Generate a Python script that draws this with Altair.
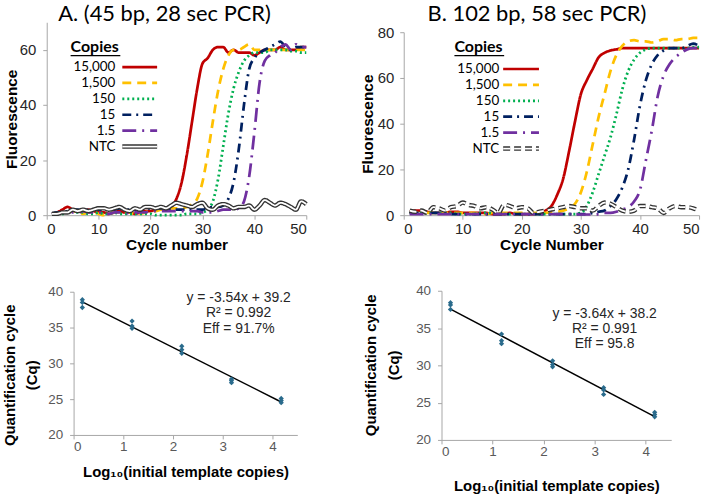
import altair as alt
import pandas as pd

# ---------------- data ----------------
cycles = list(range(1, 51))
series_names = ["15,000", "1,500", "150", "15", "1.5", "NTC"]
colored_names = series_names[:5]
legend_title = ["Copies"]
panel_titles = ["A. (45 bp, 28 sec PCR)", "B. 102 bp, 58 sec PCR)"]
cq_title = ["Quantification cycle", "(Cq)"]

a_15000 = [0.5, 1, 2, 3, 2, 1.5, 1, 2, 1.5, 1, 1, 0.5, 1, 1.5, 1, 1, 0.5, 1, 1.5, 1.5,
           2, 2, 2, 3, 6, 12, 22, 34, 46, 55, 57, 60, 61, 61, 59, 60, 59, 59, 59, 58,
           59, 60, 60, 60, 61, 60, 60, 60, 61, 61]
a_1500 = [0.5, 0.5, 1, 1, 1.5, 1, 0.5, 1, 1, 0.5, 0, 0.5, 1, 1, 1.5, 1, 0.5, 0.5, 1, 1.5,
          1.5, 2, 2, 2.5, 2.5, 2.5, 3, 4, 6, 12, 22, 34, 45, 53, 58, 60, 60, 61, 62, 60,
          60, 60, 60, 60, 60, 60, 60, 60, 60, 60]
a_150 = [0.5, 0.5, 0.5, 1, 1.5, 1, 1, 0.5, 0.5, 1, 0.5, 0.5, 1, 0.5, 0.5, 0.5, 0.5, 0.5, 0.5, 0.5,
         0, 0, 0, 0, 0, 0, 0.5, 0.5, 0.5, 1, 2, 5, 13, 25, 37, 46, 52, 56, 58, 59,
         59, 59, 60, 60, 60, 60, 59.5, 59.5, 59, 59]
a_15 = [0.5, 1, 1, 1.5, 2, 2, 1.5, 2, 2, 2, 2, 2, 2, 2.5, 2, 2, 2, 2, 2.5, 2.5,
        2.5, 2.5, 2.5, 2, 2, 2, 2, 2, 2, 2, 2.5, 3, 3, 3.5, 6, 12, 24, 40, 53, 57,
        59, 60, 61, 62, 63, 61, 60, 61, 61, 61]
a_1p5 = [0.5, 0.5, 1, 1, 1, 1, 1.5, 1, 1, 1, 0.5, 0.5, 1, 1, 0.5, 1, 1, 1, 1, 1.5,
         1.5, 1.5, 1.5, 1.5, 1.5, 1.5, 1.5, 1.5, 1.5, 1, 1, 1, 1.5, 2, 2, 2, 2.5, 5, 14, 30,
         48, 56, 58, 59, 61, 62, 60, 62, 61, 61]
a_ntc = [0.5, 0.5, 1, 1, 2, 1.5, 2, 1.5, 2, 2.5, 2.5, 2, 2.5, 3, 2, 1.5, 2.5, 2, 3, 3,
         2.5, 3, 2.5, 3.5, 4.5, 4, 3.5, 3, 4, 4.5, 2.5, 2, 3.5, 4, 3.5, 2.5, 3, 3, 3.5, 2,
         3.5, 5.5, 4.5, 3.5, 4.5, 4, 3, 2, 5, 4]

b_15000 = [1.5, 2, 2, 1.5, 1, 1, 1, 1.5, 1.5, 1, 1, 1, 1, 1, 0.5, 0.5, 0.5, 1, 0.5, 0.5,
           0.5, 0.5, 1, 2, 4, 9, 16, 28, 41, 53, 59, 64, 69, 71, 72, 72.5, 73, 73, 73, 73,
           73, 73, 73, 73, 73, 73, 73, 73, 73, 73]
b_1500 = [1, 1, 1, 1, 1, 0.5, 1, 1, 1, 1, 1, 1, 0.5, 0.5, 1, 1, 1, 1, 1, 1,
          1, 1, 1, 1, 1.5, 1.5, 2, 3, 5, 10, 19, 31, 43, 53, 63, 70, 74, 76, 76.5, 76,
          76, 75.5, 76, 77, 77, 76.5, 77, 77, 77.5, 77.5]
b_150 = [1, 1, 1, 1, 1, 1, 1, 1, 0.5, 0.5, 0.5, 0.5, 1, 1, 1, 0.5, 0.5, 0.5, 0.5, 0.5,
         0.5, 0.5, 0.5, 0.5, 0.5, 0.5, 0.5, 0.5, 0.5, 1, 4, 10, 18, 26, 34, 44, 55, 63, 68, 71,
         72.5, 73, 73, 73, 73, 73, 73, 73, 73.5, 73.5]
b_15 = [1, 1, 1, 1, 1, 1, 1, 0.5, 0.5, 0.5, 0.5, 0.5, 0.5, 0.5, 0.5, 0.5, 0.5, 0.5, 0.5, 0.5,
        0.5, 0.5, 0.5, 0.5, 0.5, 0.5, 0.5, 0.5, 0.5, 0.5, 0.5, 1, 1.5, 2, 4, 7, 12, 20, 33, 48,
        59, 66, 70, 72, 73, 73, 73, 74, 75, 74]
b_1p5 = [0.5, 0.5, 0.5, 0.5, 0.5, 0.5, 0.5, 0.5, 0.5, 0.5, 0.5, 0.5, 0.5, 0.5, 0.5, 0.5, 0.5, 0.5, 0.5, 0.5,
         0.5, 0.5, 0.5, 0.5, 0.5, 0.5, 0.5, 0.5, 0.5, 0.3, 0.3, 0.3, 0.5, 1, 1, 1.5, 2.5, 3.5, 6, 11,
         24, 37, 52, 61, 66, 69, 71, 72.5, 73, 73]
b_ntc = [2, 1.5, 2, 1, 3.5, 3, 2, 3.5, 4, 5.5, 4.5, 4, 3, 3.5, 2.5, 1, 4.5, 4, 3, 3.5,
         3, 1, 1.5, 2, 2.5, 3, 3.5, 4, 3.5, 3, 3, 2, 4, 5.5, 5, 3.5, 2, 1.5, 2, 4,
         4, 3.5, 3, 1, 3, 4, 3.5, 3.5, 3, 2]

colors_a = ["#c00000", "#ffc000", "#00b050", "#002060", "#7030a0"]
colors_b = ["#c00000", "#ffc000", "#00b050", "#0070c0", "#7030a0"]
dash_patterns = [[1, 0], [9, 6], [2, 3], [9, 5, 2, 5], [14, 6, 2, 6]]

log_copies = [0.176, 1.176, 2.176, 3.176, 4.176]
cq_a = [[38.9, 38.5, 37.8], [35.9, 35.2, 34.9], [32.4, 31.9, 31.4], [27.8, 27.6, 27.3], [25.1, 24.8, 24.5]]
cq_b = [[38.4, 38.1, 37.5], [34.2, 33.3, 32.9], [30.6, 30.1, 29.8], [27.0, 26.7, 26.1], [23.7, 23.4, 23.1]]
fit_text_a = ["y = -3.54x + 39.2", "R\u00b2 = 0.992", "Eff = 91.7%"]
fit_text_b = ["y = -3.64x + 38.2", "R\u00b2 = 0.991", "Eff = 95.8"]

# ---------------- styles ----------------
ARIAL = "Liberation Sans, Arial, sans-serif"
CALIBRI = "Lato, Carlito, Calibri, sans-serif"
AXIS_GRAY = "#a6a6a6"
PT_COLOR = "#2a6b8c"
ONE = pd.DataFrame({"k": [0]})


def anchor(x1, y1, x2, y2):
    # invisible layout guide that fixes the bounds of a panel
    return alt.Chart(ONE).mark_rule(opacity=0, strokeWidth=0.1, color="white").encode(
        x=alt.value(x1), y=alt.value(y1), x2=alt.value(x2), y2=alt.value(y2))


def label_text(text, x, y, size, angle=0, weight="bold", font=ARIAL, baseline="middle"):
    return alt.Chart(pd.DataFrame({"t": [text]})).mark_text(
        align="center", baseline=baseline, angle=angle, font=font, fontSize=size,
        fontWeight=weight, color="black").encode(
        x=alt.value(x), y=alt.value(y), text="t:N")


def amp_panel(curves, ntc, colors, ntc_dash, title, title_x, x_title, y_max, y_ticks,
              width, height, y_range, y_lab_pad, y_title_pad, leg_rows, leg_label_x,
              leg_line_x, header_x, header_y, guide):
    rows = []
    for name, vals in zip(colored_names, curves):
        for c, v in zip(cycles, vals):
            rows.append({"cycle": c, "value": v, "series": name})
    df = pd.DataFrame(rows)
    df_ntc = pd.DataFrame({"cycle": cycles, "value": ntc})

    x_enc = alt.X("cycle:Q", scale=alt.Scale(domain=[0, 50], range=[0, width], nice=False, padding=0),
                  axis=alt.Axis(values=[0, 10, 20, 30, 40, 50], title=x_title, grid=False,
                                labelFont=ARIAL, labelFontSize=15, labelColor="#262626",
                                titleFont=ARIAL, titleFontSize=15.5, titleFontWeight="bold",
                                titleColor="black", titlePadding=2, labelPadding=2,
                                tickSize=4, domainColor=AXIS_GRAY, tickColor=AXIS_GRAY))
    y_enc = alt.Y("value:Q", scale=alt.Scale(domain=[0, y_max], range=y_range, nice=False),
                  axis=alt.Axis(values=y_ticks, title="Fluorescence", grid=False,
                                labelFont=ARIAL, labelFontSize=15, labelColor="#262626",
                                titleFont=ARIAL, titleFontSize=15.5, titleFontWeight="bold",
                                titleColor="black", titlePadding=y_title_pad,
                                labelPadding=y_lab_pad, tickSize=4,
                                domainColor=AXIS_GRAY, tickColor=AXIS_GRAY))
    color_scale = alt.Scale(domain=colored_names, range=colors)
    dash_scale = alt.Scale(domain=colored_names, range=dash_patterns)

    col_lines = alt.Chart(df).mark_line(strokeWidth=2.75, interpolate="monotone").encode(
        x=x_enc, y=y_enc,
        color=alt.Color("series:N", scale=color_scale, legend=None),
        strokeDash=alt.StrokeDash("series:N", scale=dash_scale, legend=None),
    )
    ntc_out = alt.Chart(df_ntc).mark_line(strokeWidth=4.5, color="#333333", strokeDash=ntc_dash,
                                          interpolate="monotone").encode(x=x_enc, y=y_enc)
    ntc_in = alt.Chart(df_ntc).mark_line(strokeWidth=1.8, color="white", strokeDash=ntc_dash,
                                         interpolate="monotone").encode(x=x_enc, y=y_enc)
    lines = alt.layer(col_lines, ntc_out, ntc_in)

    leg_df = pd.DataFrame({"series": series_names})
    leg_y = alt.Y("series:N", scale=alt.Scale(type="point", domain=series_names,
                                               range=leg_rows, padding=0), axis=None)
    samples = alt.Chart(leg_df).transform_filter(alt.datum.series != "NTC").mark_rule(
        strokeWidth=2.75).encode(
        x=alt.value(leg_line_x[0]), x2=alt.value(leg_line_x[1]), y=leg_y,
        color=alt.Color("series:N", scale=color_scale, legend=None),
        strokeDash=alt.StrokeDash("series:N", scale=dash_scale, legend=None),
    )
    leg_ntc_out = alt.Chart(leg_df).transform_filter(alt.datum.series == "NTC").mark_rule(
        strokeWidth=4.5, color="#333333", strokeDash=ntc_dash).encode(
        x=alt.value(leg_line_x[0]), x2=alt.value(leg_line_x[1]), y=leg_y)
    leg_ntc_in = alt.Chart(leg_df).transform_filter(alt.datum.series == "NTC").mark_rule(
        strokeWidth=1.8, color="white", strokeDash=ntc_dash).encode(
        x=alt.value(leg_line_x[0]), x2=alt.value(leg_line_x[1]), y=leg_y)
    labels = alt.Chart(leg_df).mark_text(align="right", baseline="middle", font=CALIBRI,
                                         fontSize=13.5, color="black").encode(
        x=alt.value(leg_label_x), y=leg_y, text="series:N")
    head_df = pd.DataFrame({"h": legend_title})
    header = alt.Chart(head_df).mark_text(align="left", baseline="alphabetic", font=CALIBRI,
                                          fontSize=16, fontWeight="bold", color="black").encode(
        x=alt.value(header_x), y=alt.value(header_y), text="h:N")
    underline = alt.Chart(head_df).mark_rule(color="black", strokeWidth=1.2).encode(
        x=alt.value(header_x), x2=alt.value(header_x + 50), y=alt.value(header_y + 3.5))
    title_mark = label_text(title, title_x, -1, 22, weight="normal", font=CALIBRI,
                            baseline="alphabetic")
    legend = alt.layer(samples, leg_ntc_out, leg_ntc_in, labels, header, underline,
                       title_mark, anchor(*guide))

    return alt.layer(lines, legend).resolve_scale(y="independent").properties(
        width=width, height=height)


def cal_panel(cq, fit_text, width, height, x_range, y_range, x_axis_off, y_axis_off,
              text_x, text_y, x_title_pad, ytitle_x, ytitle_y, guide):
    df = pd.DataFrame([{"x": lx, "cq": v} for lx, reps in zip(log_copies, cq) for v in reps])
    x_enc = alt.X("x:Q", scale=alt.Scale(domain=[0, 4.5], range=x_range, nice=False, padding=0),
                  axis=alt.Axis(values=[0, 1, 2, 3, 4], title="Log\u2081\u2080(initial template copies)",
                                grid=False, labelFont=ARIAL, labelFontSize=13.5,
                                labelColor="#595959", titleFont=ARIAL, titleFontSize=15,
                                titleFontWeight="bold", titleColor="black",
                                titlePadding=x_title_pad, labelPadding=1, tickSize=4,
                                offset=x_axis_off,
                                domainColor=AXIS_GRAY, tickColor=AXIS_GRAY))
    y_enc = alt.Y("cq:Q", scale=alt.Scale(domain=[20, 40], range=y_range, nice=False, zero=False),
                  axis=alt.Axis(values=[20, 25, 30, 35, 40], title="",
                                grid=False, labelFont=ARIAL, labelFontSize=13.5,
                                labelColor="#595959", labelPadding=7, tickSize=4,
                                offset=y_axis_off,
                                domainColor=AXIS_GRAY, tickColor=AXIS_GRAY))
    line = alt.Chart(df).transform_regression("x", "cq").mark_line(
        color="black", strokeWidth=1.5).encode(x=x_enc, y=y_enc)
    pts = alt.Chart(df).mark_point(shape="diamond", filled=True, size=28, color=PT_COLOR,
                                   opacity=1).encode(x=x_enc, y=y_enc)
    txt = alt.Chart(ONE).mark_text(
        text=fit_text, align="center", baseline="top", font=ARIAL, fontSize=14,
        lineHeight=15.5, color="#262626").encode(x=alt.value(text_x), y=alt.value(text_y))
    yt1 = label_text(cq_title[0], ytitle_x[0], ytitle_y, 15, angle=270)
    yt2 = label_text(cq_title[1], ytitle_x[1], ytitle_y, 15, angle=270)
    return alt.layer(line, pts, txt, yt1, yt2, anchor(*guide)).properties(width=width, height=height)


panel_a = amp_panel([a_15000, a_1500, a_150, a_15, a_1p5], a_ntc, colors_a, [1, 0],
                    panel_titles[0], 118.5, "Cycle number", 70, [0, 20, 40, 60],
                    261, 194, [194, 0], 7, 0, [45, 125], 69, [76, 111], 24, 30,
                    (-46, -20, 270, 240))
panel_b = amp_panel([b_15000, b_1500, b_150, b_15, b_1p5], b_ntc, colors_b, [7, 4],
                    panel_titles[1], 134, "Cycle Number", 80, [0, 20, 40, 60, 80],
                    297, 194, [194, 10], 6, 2, [47, 127], 96, [100, 136], 51, 30,
                    (-45, -20, -45, 240))
panel_c = cal_panel(cq_a, fit_text_a, 261, 150, [27, 252], [145, 1], -5, -27, 193, 0, 11,
                    (-37, -14.5), 85, (-46, -10, 270, 150))
panel_d = cal_panel(cq_b, fit_text_b, 297, 150, [38, 269], [150, 0], 0, -38, 202, 16, 20,
                    (-33, -10), 75, (-45, -10, -45, 150))

chart = alt.concat(
    panel_a, panel_b, panel_c, panel_d,
    columns=2, spacing={"row": 18, "column": 42}, align="each",
).properties(
    padding={"left": 0, "top": 0, "right": 0, "bottom": 0}, background="white"
).configure_view(stroke="transparent")

chart.save("out.html", embed_options={"renderer": "svg", "actions": False})
